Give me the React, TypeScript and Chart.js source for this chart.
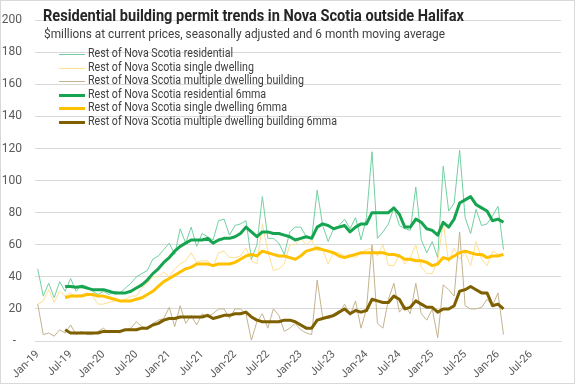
import React, { useEffect, useRef } from 'react';
import { Chart, registerables } from 'chart.js';

Chart.register(...registerables);

// ---- categories (monthly, Jan-19 .. Dec-26 on the axis) ----
const MONTHS = ['Jan', 'Feb', 'Mar', 'Apr', 'May', 'Jun', 'Jul', 'Aug', 'Sep', 'Oct', 'Nov', 'Dec'];
const YEARS = ['19', '20', '21', '22', '23', '24', '25', '26'];
const CATEGORIES = YEARS.flatMap((y) => MONTHS.map((m) => `${m}-${y}`));

// ---- series ($ millions), Jan-19 .. Feb-26 ----
const residential = [
  45, 28, 36, 27, 37, 31, 39, 31, 35, 34,
  31, 29, 31, 29, 31, 30, 33, 36, 40, 42,
  44, 51, 53, 57, 61, 54, 70, 61, 71, 59,
  67, 65, 63, 75, 76, 66, 72, 73, 75, 51,
  60, 90, 64, 64, 61, 54, 68, 71, 71, 65,
  64, 94, 72, 62, 70, 72, 76, 70, 77, 63,
  77, 118, 64, 68, 73, 83, 72, 70, 69, 96,
  63, 55, 62, 52, 109, 81, 86, 119, 77, 67,
  82, 72, 73, 78, 84, 57,
];
const singleDwelling = [
  23, 25, 32, 24, 31, 28, 30, 27, 29, 30,
  28, 23, 23, 24, 25, 25, 26, 28, 28, 33,
  36, 40, 40, 43, 40, 45, 48, 50, 55, 49,
  50, 50, 46, 55, 56, 52, 52, 53, 58, 50,
  48, 73, 56, 44, 45, 48, 60, 60, 64, 60,
  63, 56, 57, 48, 55, 55, 53, 54, 52, 55,
  57, 58, 53, 60, 47, 47, 54, 48, 52, 60,
  46, 42, 42, 50, 74, 49, 58, 51, 55, 47,
  62, 51, 47, 56, 54, 53,
];
const multipleDwelling = [
  23, 4, 5, 3, 7, 5, 10, 4, 6, 4,
  4, 6, 8, 5, 6, 5, 7, 8, 12, 9,
  8, 11, 13, 14, 21, 9, 22, 11, 16, 10,
  17, 15, 17, 20, 20, 14, 20, 20, 17, 0.5,
  12, 17, 8, 20, 16, 6, 8, 11, 7, 5,
  4, 38, 15, 14, 15, 17, 23, 16, 25, 8,
  20, 60, 11, 8, 26, 36, 18, 22, 17, 36,
  17, 13, 20, 2, 35, 32, 28, 68, 22, 20,
  20, 21, 26, 22, 30, 4,
];
const residential6mma = [
  null, null, null, null, null, 34, 34, 33.5, 34, 33,
  32, 32, 32, 31, 30, 30, 30, 31, 33, 35,
  38, 42, 45, 49, 52, 56, 59, 61, 63, 63,
  63, 64, 61, 63, 64, 64, 65, 67, 71, 68,
  65, 68, 68, 67, 67, 66, 65, 63, 64, 65,
  64, 71, 73, 72, 70, 71, 72, 68, 71, 73,
  73, 80, 80, 80, 80, 83, 79, 71, 71, 76,
  74, 70, 69, 66, 74, 71, 76, 86, 88, 90,
  85, 83, 81, 75, 76, 74,
];
const single6mma = [
  null, null, null, null, null, 27, 28, 28, 28, 29,
  29, 28, 28, 27, 26, 25, 25, 25, 26, 27,
  29, 31, 34, 37, 39, 41, 43, 45, 46, 48,
  48, 48, 47, 48, 48, 48, 49, 51, 53, 54,
  53, 56, 55, 54, 53, 53, 52, 51, 53, 56,
  57, 58, 57, 56, 55, 53, 52, 53, 54, 55,
  55, 55, 55, 55, 54, 54, 53, 51, 51, 50,
  50, 49, 47, 48, 52, 51, 53, 55, 56, 55,
  54, 54, 52, 53, 53, 54,
];
const multiple6mma = [
  null, null, null, null, null, 7, 5, 5, 5, 5,
  5, 5, 6, 6, 6, 6, 7, 7, 7, 8,
  8, 10, 11, 13, 14, 14, 15, 15, 15, 15,
  15, 16, 14, 15, 16, 16, 17, 17, 18, 15,
  13, 12, 12, 12, 12, 13, 13, 12, 10, 8,
  8, 13, 14, 15, 16, 18, 20, 17, 19, 18,
  19, 26, 25, 24, 24, 28, 26, 20, 21, 25,
  23, 21, 21, 18, 20, 20, 22, 31, 32, 34,
  32, 30, 30, 22, 23, 20,
];

const SERIES_NAMES = [
  'Rest of Nova Scotia residential',
  'Rest of Nova Scotia single dwelling',
  'Rest of Nova Scotia multiple dwelling building',
  'Rest of Nova Scotia residential 6mma',
  'Rest of Nova Scotia single dwelling 6mma',
  'Rest of Nova Scotia multiple dwelling building 6mma',
];
const TITLE = 'Residential building permit trends in Nova Scotia outside Halifax';
const SUBTITLE = '$millions at current prices, seasonally adjusted and 6 month moving average';
const Y_MIN = 0;
const Y_MAX = 200;
const Y_STEP = 20;
const X_TICK_EVERY = 6;

const COLORS = ['#72d1a1', '#ffe08f', '#c3b38f', '#16a450', '#ffc000', '#7f6000'];
const WIDTHS = [1, 1, 1, 3, 3, 3];

function fitText(ctx: CanvasRenderingContext2D, text: string, x: number, y: number, sx: number) {
  ctx.save();
  ctx.translate(x, y);
  ctx.scale(sx, 1);
  ctx.fillText(text, 0, 0);
  ctx.restore();
}

const decorPlugin = {
  id: 'decor',
  beforeDraw(chart: any) {
    const { ctx, width, height } = chart;
    ctx.save();
    ctx.fillStyle = '#ffffff';
    ctx.fillRect(0, 0, width, height);
    ctx.restore();
  },
  afterDraw(chart: any) {
    const ctx: CanvasRenderingContext2D = chart.ctx;
    ctx.save();
    ctx.strokeStyle = '#d9d9d9';
    ctx.lineWidth = 1;
    ctx.strokeRect(0.5, 0.5, 574, 383);

    ctx.textBaseline = 'middle';
    ctx.textAlign = 'left';

    ctx.font = 'bold 16px Roboto';
    ctx.fillStyle = '#262626';
    fitText(ctx, TITLE, 43, 17, 421 / ctx.measureText(TITLE).width);

    ctx.font = '12.5px Roboto';
    ctx.fillStyle = '#404040';
    fitText(ctx, SUBTITLE, 44, 34.5, 401 / ctx.measureText(SUBTITLE).width);

    ctx.font = '12px Roboto';
    ctx.fillStyle = '#404040';
    const sx = 249 / ctx.measureText(SERIES_NAMES[5]).width;
    SERIES_NAMES.forEach((name, i) => {
      const y = 54 + i * 13.6;
      ctx.strokeStyle = COLORS[i];
      ctx.lineWidth = WIDTHS[i];
      ctx.beginPath();
      ctx.moveTo(59, Math.round(y) + (WIDTHS[i] % 2 ? 0.5 : 0));
      ctx.lineTo(85, Math.round(y) + (WIDTHS[i] % 2 ? 0.5 : 0));
      ctx.stroke();
      fitText(ctx, name, 88, y, sx);
    });
    ctx.restore();
  },
};

export default function App() {
  const ref = useRef<HTMLCanvasElement>(null);
  useEffect(() => {
    document.body.style.margin = '0';
    const canvas = ref.current;
    if (!canvas) return;
    const seriesData = [residential, singleDwelling, multipleDwelling, residential6mma, single6mma, multiple6mma];
    const chart = new Chart(canvas, {
      type: 'line',
      data: {
        labels: CATEGORIES,
        datasets: seriesData.map((d, i) => ({
          label: SERIES_NAMES[i],
          data: d,
          borderColor: COLORS[i],
          backgroundColor: COLORS[i],
          borderWidth: WIDTHS[i],
          pointRadius: 0,
          tension: 0,
          fill: false,
          spanGaps: false,
          order: 6 - i,
          borderJoinStyle: 'round' as const,
        })),
      },
      options: {
        responsive: false,
        animation: false,
        devicePixelRatio: 1,
        layout: { padding: { top: 7, right: 16, left: 0, bottom: 0 } },
        plugins: {
          legend: { display: false },
          title: { display: false },
          tooltip: { enabled: false },
        },
        scales: {
          x: {
            type: 'category',
            offset: true,
            grid: { display: false, drawTicks: false },
            border: { display: true, color: '#d9d9d9' },
            ticks: {
              autoSkip: false,
              maxRotation: 45,
              minRotation: 45,
              padding: 7,
              color: '#595959',
              font: { family: 'Roboto', size: 11 },
            },
            afterBuildTicks: (s: any) => {
              s.ticks = s.ticks.filter((t: any) => t.value % X_TICK_EVERY === 0);
            },
            afterFit: (s: any) => {
              s.height = 44;
            },
          },
          y: {
            min: Y_MIN,
            max: Y_MAX,
            grid: { color: '#d9d9d9', drawTicks: false },
            border: { display: false },
            ticks: {
              stepSize: Y_STEP,
              padding: 13,
              color: '#595959',
              font: { family: 'Roboto', size: 12 },
              callback: (v: any) => (Number(v) === 0 ? '-  ' : String(v)),
            },
            afterFit: (s: any) => {
              s.width = 35;
            },
          },
        },
      },
      plugins: [decorPlugin],
    });
    return () => chart.destroy();
  }, []);
  return <canvas ref={ref} width={577} height={385} style={{ display: 'block' }} />;
}
